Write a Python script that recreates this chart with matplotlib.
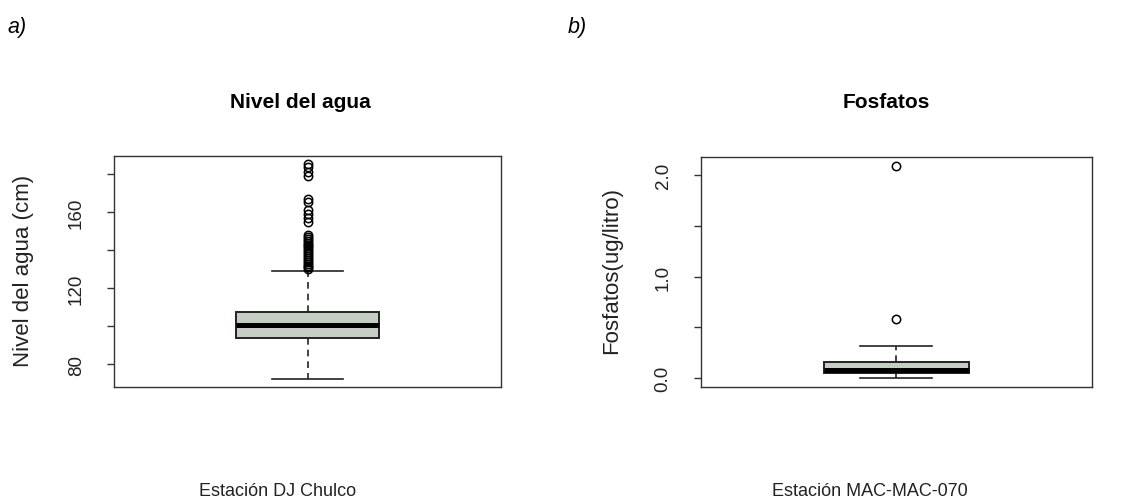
import matplotlib
matplotlib.use("Agg")
import matplotlib.pyplot as plt

plt.rcParams['font.family'] = ['Liberation Sans', 'DejaVu Sans']

# panel a) water level, station DJ Chulco
nivel_q1 = 93.7
nivel_med = 100.5
nivel_q3 = 107.7
nivel_lo = 72.5
nivel_hi = 129.3
nivel_out = [185.5, 184.0, 181.0, 179.0,
             167.0, 165.5, 161.0, 159.0, 157.0, 155.0,
             148.0, 147.0, 146.0, 145.0, 144.0, 143.0, 142.0, 141.0,
             140.0, 139.0, 138.0, 137.0, 136.0, 135.0, 134.0, 133.0,
             132.0, 131.0, 130.0]
nivel_ticks = [80, 100, 120, 140, 160, 180]
nivel_labels = ['80', '', '120', '', '160', '']

# panel b) phosphates, station MAC-MAC-070
fosf_q1 = 0.05
fosf_med = 0.08
fosf_q3 = 0.16
fosf_lo = 0.0
fosf_hi = 0.32
fosf_out = [0.583, 2.088]
fosf_ticks = [0.0, 0.5, 1.0, 1.5, 2.0]
fosf_labels = ['0.0', '', '1.0', '', '2.0']

W, H = 1128, 502
fig = plt.figure(figsize=(W / 100, H / 100), dpi=100)
ax1 = fig.add_axes([114 / W, 1 - 388 / H, 387 / W, 231 / H])
ax2 = fig.add_axes([700.7 / W, 1 - 388.3 / H, 391 / W, 230.6 / H])


def draw_box(ax, q1, med, q3, lo, hi, out, ylim, ticks, labels):
    stats = [dict(med=med, q1=q1, q3=q3, whislo=lo, whishi=hi, fliers=out)]
    ax.bxp(stats, positions=[1], widths=0.37, capwidths=[0.185],
           patch_artist=True,
           boxprops=dict(facecolor='#c4cec3', edgecolor='#222222', linewidth=1.4),
           medianprops=dict(color='black', linewidth=3.6, solid_capstyle='butt'),
           whiskerprops=dict(color='#222222', linewidth=1.2, linestyle=(0, (4, 3))),
           capprops=dict(color='#222222', linewidth=1.2),
           flierprops=dict(marker='o', markerfacecolor='none', markeredgecolor='black',
                           markersize=6, markeredgewidth=1.1))
    ax.set_xlim(0.5, 1.5)
    ax.set_ylim(*ylim)
    ax.set_xticks([])
    ax.set_yticks(ticks)
    ax.set_yticklabels(labels)
    ax.tick_params(axis='y', length=5, width=1, color='#333333', pad=16,
                   labelsize=13.5, labelrotation=90, labelcolor='#222222')
    for s in ax.spines.values():
        s.set_color('#333333')
        s.set_linewidth(1.0)


draw_box(ax1, nivel_q1, nivel_med, nivel_q3, nivel_lo, nivel_hi, nivel_out,
         (68.1, 189.6), nivel_ticks, nivel_labels)
draw_box(ax2, fosf_q1, fosf_med, fosf_q3, fosf_lo, fosf_hi, fosf_out,
         (-0.088, 2.177), fosf_ticks, fosf_labels)
for lbl in ax1.get_yticklabels() + ax2.get_yticklabels():
    lbl.set_va('center')

# titles and labels
fig.text(8 / W, 1 - 28 / H, 'a)', fontsize=15.5, style='italic', va='center', ha='left')
fig.text(568 / W, 1 - 28 / H, 'b)', fontsize=15.5, style='italic', va='center', ha='left')
fig.text(300 / W, 1 - 103 / H, 'Nivel del agua', fontsize=15, fontweight='bold',
         ha='center', va='center')
fig.text(886 / W, 1 - 103 / H, 'Fosfatos', fontsize=15, fontweight='bold',
         ha='center', va='center')
fig.text(23 / W, 1 - 271 / H, 'Nivel del agua (cm)', fontsize=16, rotation=90,
         ha='center', va='center', color='#222222')
fig.text(612 / W, 1 - 271 / H, 'Fosfatos(ug/litro)', fontsize=16, rotation=90,
         ha='center', va='center', color='#222222')
fig.text(278 / W, 1 - 492 / H, 'Estación DJ Chulco', fontsize=13,
         ha='center', va='center', color='#222222')
fig.text(870 / W, 1 - 492 / H, 'Estación MAC-MAC-070', fontsize=13,
         ha='center', va='center', color='#222222')

fig.savefig('out.png', dpi=100)
